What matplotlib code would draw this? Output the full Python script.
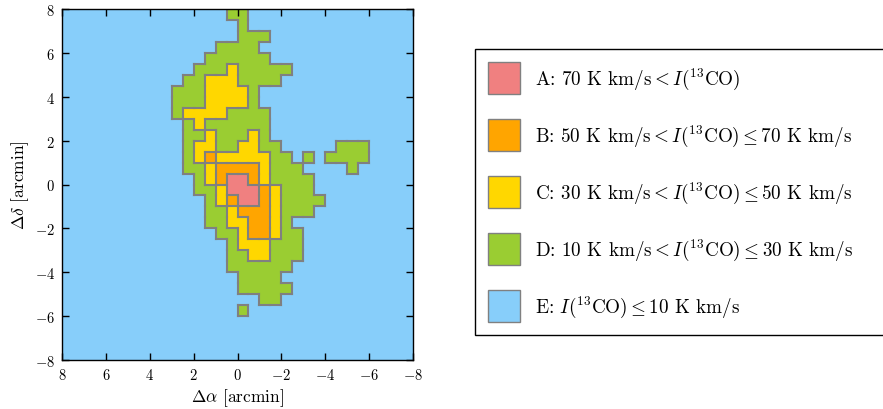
import numpy as np
import matplotlib
matplotlib.use('Agg')
import matplotlib.pyplot as plt
from matplotlib.colors import ListedColormap, BoundaryNorm
from matplotlib.collections import LineCollection
from matplotlib.patches import Patch

plt.rcParams['font.family'] = 'serif'
plt.rcParams['font.serif'] = ['cmr10']
plt.rcParams['mathtext.fontset'] = 'cm'
plt.rcParams['axes.unicode_minus'] = False
plt.rcParams['axes.formatter.use_mathtext'] = True

# integrated 13CO intensity class per 0.5' pixel, rows from north (top) to south,
# columns from east (Delta alpha = +8) to west (-8)
class_map = [
    "EEEEEEEEEEEEEEEDDEEEEEEEEEEEEEEE",
    "EEEEEEEEEEEEEEEEDEEEEEEEEEEEEEEE",
    "EEEEEEEEEEEEEEEEDDDEEEEEEEEEEEEE",
    "EEEEEEEEEEEEEEDDDDEEEEEEEEEEEEEE",
    "EEEEEEEEEEEEEDDDDDDEEEEEEEEEEEEE",
    "EEEEEEEEEEEEDDDCDDDDDEEEEEEEEEEE",
    "EEEEEEEEEEEDDCCCDDDDEEEEEEEEEEEE",
    "EEEEEEEEEEDDDCCCCDEEEEEEEEEEEEEE",
    "EEEEEEEEEEDDDCCCCDEEEEEEEEEEEEEE",
    "EEEEEEEEEEDCCCCDDDDEEEEEEEEEEEEE",
    "EEEEEEEEEEEDCDDDDDDEEEEEEEEEEEEE",
    "EEEEEEEEEEEDDCDDDCDEEEEEEEEEEEEE",
    "EEEEEEEEEEEDCCDDCCDDEEEEEDDDEEEE",
    "EEEEEEEEEEEDCBCCCCCDDEDEDDDDEEEE",
    "EEEEEEEEEEEDDCBBBBCDDDEEEEDEEEEE",
    "EEEEEEEEEEEEDCBAABCDDDDEEEEEEEEE",
    "EEEEEEEEEEEEDDCAAABCDDDEEEEEEEEE",
    "EEEEEEEEEEEEEDCBAABCDDDDEEEEEEEE",
    "EEEEEEEEEEEEEDDCBBBCDDDEEEEEEEEE",
    "EEEEEEEEEEEEEDDCCBBCDEEEEEEEEEEE",
    "EEEEEEEEEEEEEEDDCBBCDDEEEEEEEEEE",
    "EEEEEEEEEEEEEEEDCCCDDDEEEEEEEEEE",
    "EEEEEEEEEEEEEEEDDCCDDDEEEEEEEEEE",
    "EEEEEEEEEEEEEEEDDDDDDEEEEEEEEEEE",
    "EEEEEEEEEEEEEEEEDDDDEEEEEEEEEEEE",
    "EEEEEEEEEEEEEEEEDDDDDEEEEEEEEEEE",
    "EEEEEEEEEEEEEEEEEEDDEEEEEEEEEEEE",
    "EEEEEEEEEEEEEEEEDEEEEEEEEEEEEEEE",
    "EEEEEEEEEEEEEEEEEEEEEEEEEEEEEEEE",
    "EEEEEEEEEEEEEEEEEEEEEEEEEEEEEEEE",
    "EEEEEEEEEEEEEEEEEEEEEEEEEEEEEEEE",
    "EEEEEEEEEEEEEEEEEEEEEEEEEEEEEEEE",
]

classes = ['A', 'B', 'C', 'D', 'E']
class_colors = ['lightcoral', 'orange', 'gold', 'yellowgreen', 'lightskyblue']
class_labels = [
    r'A: 70 K km/s$<I(^{13}\mathrm{CO})$',
    r'B: 50 K km/s$<I(^{13}\mathrm{CO})\leq 70$ K km/s',
    r'C: 30 K km/s$<I(^{13}\mathrm{CO})\leq 50$ K km/s',
    r'D: 10 K km/s$<I(^{13}\mathrm{CO})\leq 30$ K km/s',
    r'E: $I(^{13}\mathrm{CO})\leq 10$ K km/s',
]

map_extent = 8.0  # arcmin
ticks = [-8, -6, -4, -2, 0, 2, 4, 6, 8]

grid = np.array([[classes.index(c) for c in row] for row in class_map])
ny, nx = grid.shape
x_edges = np.linspace(map_extent, -map_extent, nx + 1)
y_edges = np.linspace(map_extent, -map_extent, ny + 1)

fig = plt.figure(figsize=(8.83, 4.10), dpi=100)
ax = fig.add_axes([62 / 883, 49 / 410, 351 / 883, 351 / 410])

cmap = ListedColormap(class_colors)
norm = BoundaryNorm(np.arange(len(classes) + 1) - 0.5, cmap.N)
ax.pcolormesh(x_edges, y_edges, grid, cmap=cmap, norm=norm, shading='flat')

# grey outlines wherever neighbouring pixels fall in different classes
segs = []
for i in range(ny):
    for j in range(nx - 1):
        if grid[i, j] != grid[i, j + 1]:
            segs.append([(x_edges[j + 1], y_edges[i]), (x_edges[j + 1], y_edges[i + 1])])
for i in range(ny - 1):
    for j in range(nx):
        if grid[i, j] != grid[i + 1, j]:
            segs.append([(x_edges[j], y_edges[i + 1]), (x_edges[j + 1], y_edges[i + 1])])
ax.add_collection(LineCollection(segs, colors='grey', linewidths=1.5, capstyle='projecting'))

ax.set_xlim(map_extent, -map_extent)
ax.set_ylim(-map_extent, map_extent)
ax.set_xticks(ticks, labels=[f'${t}$' for t in ticks])
ax.set_yticks(ticks, labels=[f'${t}$' for t in ticks])
ax.tick_params(direction='in', top=True, right=True, length=5, width=1, labelsize=10.5, pad=5)
for s in ax.spines.values():
    s.set_linewidth(1.0)
ax.set_xlabel(r'$\Delta\alpha$ [arcmin]', fontsize=12.5, labelpad=3)
ax.set_ylabel(r'$\Delta\delta$ [arcmin]', fontsize=12.5, labelpad=3)

handles = [Patch(facecolor=c, edgecolor='grey', linewidth=1.0) for c in class_colors]
leg = fig.legend(handles, class_labels, loc='upper left',
                 bbox_to_anchor=(475 / 883, 0.0, 1.02 - 475 / 883, 1 - 50 / 410),
                 mode='expand', borderaxespad=0, fontsize=13.8, frameon=True, fancybox=False,
                 edgecolor='black', framealpha=1, handlelength=1.67, handleheight=2.19,
                 labelspacing=1.30, borderpad=0.68, handletextpad=0.78)
leg.get_frame().set_linewidth(1.0)

fig.savefig('out.png', dpi=100)
